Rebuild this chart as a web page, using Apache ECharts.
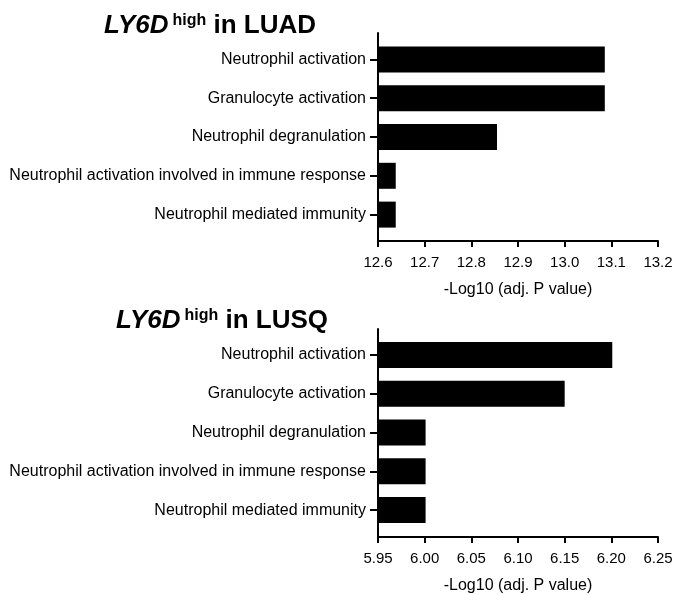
<!DOCTYPE html>
<html>
<head>
<meta charset="utf-8">
<script src="https://cdn.jsdelivr.net/npm/echarts@6/dist/echarts.min.js"></script>
<style>
html,body{margin:0;padding:0;background:#fff;}
#chart{width:677px;height:595px;}
</style>
</head>
<body>
<div id="chart"></div>
<script>
var categories = ["Neutrophil activation", "Granulocyte activation", "Neutrophil degranulation",
    "Neutrophil activation involved in immune response", "Neutrophil mediated immunity"];
var luadValues = [13.086, 13.086, 12.855, 12.638, 12.638];
var lusqValues = [6.201, 6.150, 6.001, 6.001, 6.001];
var luadTicks = {min: 12.6, max: 13.2, interval: 0.1, digits: 1};
var lusqTicks = {min: 5.95, max: 6.25, interval: 0.05, digits: 2};
var axisName = "-Log10 (adj. P value)";

var font = "'Liberation Sans', Arial, sans-serif";
var lineStyle = {color: "#000", width: 2};

function titleRich() {
    return {
        i: {fontFamily: font, fontSize: 26, fontWeight: "bold", fontStyle: "italic", color: "#000"},
        s: {fontFamily: font, fontSize: 16, fontWeight: "bold", color: "#000", verticalAlign: "top", padding: [0, 0, 0, 4]},
        b: {fontFamily: font, fontSize: 26, fontWeight: "bold", color: "#000"}
    };
}

// 轴线网格（含x轴刻度与y轴竖线）
function frameXAxis(gridIndex, ticks) {
    return {
        gridIndex: gridIndex,
        type: "value",
        min: ticks.min,
        max: ticks.max,
        interval: ticks.interval,
        name: axisName,
        nameLocation: "middle",
        nameGap: 41,
        nameTextStyle: {color: "#000", fontFamily: font, fontSize: 16},
        axisLine: {show: true, lineStyle: lineStyle},
        axisTick: {show: true, length: 6, lineStyle: lineStyle},
        axisLabel: {
            color: "#000", fontFamily: font, fontSize: 15, margin: 14,
            formatter: function (v) { return v.toFixed(ticks.digits); }
        },
        splitLine: {show: false}
    };
}

function frameYAxis(gridIndex) {
    return {
        gridIndex: gridIndex,
        type: "value",
        min: 0,
        max: 1,
        axisLine: {show: true, lineStyle: lineStyle},
        axisTick: {show: false},
        axisLabel: {show: false},
        splitLine: {show: false}
    };
}

// 柱子网格
function barXAxis(gridIndex, ticks) {
    return {gridIndex: gridIndex, type: "value", min: ticks.min, max: ticks.max, show: false};
}

function barYAxis(gridIndex) {
    return {
        gridIndex: gridIndex,
        type: "category",
        inverse: true,
        data: categories,
        axisLine: {show: false},
        axisTick: {show: true, length: 8, alignWithLabel: true, lineStyle: lineStyle},
        axisLabel: {color: "#000", fontFamily: font, fontSize: 16, margin: 12}
    };
}

function barSeries(axisIndex, values) {
    return {
        type: "bar",
        xAxisIndex: axisIndex,
        yAxisIndex: axisIndex,
        data: values,
        barCategoryGap: "33%",
        itemStyle: {color: "#000"},
        silent: true
    };
}

var option = {
    animation: false,
    backgroundColor: "#fff",
    title: [
        {text: "{i|LY6D}{s|high}{b| in LUAD}", left: 99, top: 8, textStyle: {rich: titleRich()}},
        {text: "{i|LY6D}{s|high}{b| in LUSQ}", left: 111, top: 303, textStyle: {rich: titleRich()}}
    ],
    grid: [
        {left: 378, right: 19, top: 33, height: 208},
        {left: 378, right: 19, top: 40, height: 194},
        {left: 378, right: 19, top: 329, height: 208},
        {left: 378, right: 19, top: 335.5, height: 194}
    ],
    xAxis: [frameXAxis(0, luadTicks), barXAxis(1, luadTicks), frameXAxis(2, lusqTicks), barXAxis(3, lusqTicks)],
    yAxis: [frameYAxis(0), barYAxis(1), frameYAxis(2), barYAxis(3)],
    series: [barSeries(1, luadValues), barSeries(3, lusqValues)]
};

var chart = echarts.init(document.getElementById("chart"));
chart.setOption(option, true);
</script>
</body>
</html>
